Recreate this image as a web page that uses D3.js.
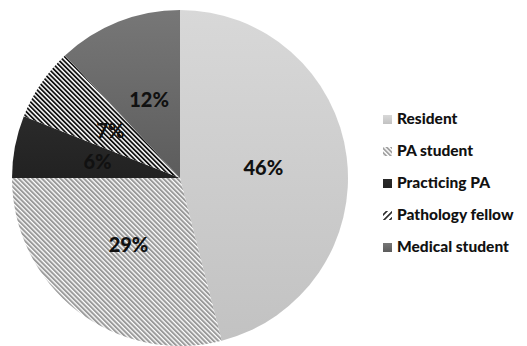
<html>
<head>
<meta charset="UTF-8">
<script src="https://d3js.org/d3.v7.min.js"></script>
<style>
  body { margin: 0; background: #fff; }
  text { font-family: Lato, "Open Sans", sans-serif; font-weight: 900; }
</style>
</head>
<body>
<svg id="chart" width="527" height="346"></svg>
<script>
// data
let categories = ["Resident", "PA student", "Practicing PA", "Pathology fellow", "Medical student"];
let shares = [46, 29, 6, 7, 12];
let fillIds = ["gResident", "pPaStudent", "cPractice", "pFellow", "gMedical"];
let legendIds = ["gResident", "lPaStudent", "cPractice", "lFellow", "gMedical"];

let svg = d3.select("#chart");
let defs = svg.append("defs");

// vertical gradients for the plain gray slices
function grad(id, top, bottom) {
    let g = defs.append("linearGradient").attr("id", id)
        .attr("x1", 0).attr("y1", 0).attr("x2", 0).attr("y2", 1);
    g.append("stop").attr("offset", "0%").attr("stop-color", top);
    g.append("stop").attr("offset", "100%").attr("stop-color", bottom);
}
grad("gResident", "#d8d8d8", "#c2c2c2");
grad("gMedical", "#777777", "#5c5c5c");
grad("cPractice", "#2a2a2a", "#222222");

// striped patterns
function stripes(id, color, size, band, angle) {
    let p = defs.append("pattern").attr("id", id)
        .attr("patternUnits", "userSpaceOnUse")
        .attr("width", size).attr("height", size)
        .attr("patternTransform", "rotate(" + angle + ")");
    p.append("rect").attr("width", size).attr("height", size).attr("fill", "#fff");
    p.append("rect").attr("width", band).attr("height", size).attr("fill", color);
}
stripes("pPaStudent", "#9a9a9a", 3.3, 2, -45);
stripes("pFellow", "#111", 3.3, 1.8, -45);
stripes("lPaStudent", "#a0a0a0", 3.2, 1.8, -45);
stripes("lFellow", "#222", 4.2, 1.6, 45);

let cx = 180, cy = 178, radius = 168;

let pie = d3.pie().sort(null).value(d => d)(shares);
let arc = d3.arc().innerRadius(0).outerRadius(radius);

let g = svg.append("g").attr("transform", "translate(" + cx + "," + cy + ")");

g.selectAll("path").data(pie).enter().append("path")
    .attr("d", arc)
    .attr("fill", (d, i) => "url(#" + fillIds[i] + ")");

g.selectAll("text.lbl").data(pie).enter().append("text")
    .attr("class", "lbl")
    .attr("transform", d => "translate(" + arc.centroid(d) + ")")
    .attr("text-anchor", "middle")
    .attr("dy", "0.36em")
    .attr("font-size", 20)
    .attr("fill", "#111")
    .text(d => d.data + "%");

// legend
let legend = svg.append("g").attr("transform", "translate(383,0)");
let rowY = d3.scaleLinear().domain([0, categories.length - 1]).range([124, 252]);

categories.forEach((c, i) => {
    legend.append("rect")
        .attr("x", 0).attr("y", rowY(i) - 9)
        .attr("width", 9).attr("height", 9)
        .attr("fill", "url(#" + legendIds[i] + ")");
    legend.append("text")
        .attr("x", 14).attr("y", rowY(i))
        .attr("font-size", 15.5)
        .attr("fill", "#111")
        .text(c);
});
</script>
</body>
</html>
